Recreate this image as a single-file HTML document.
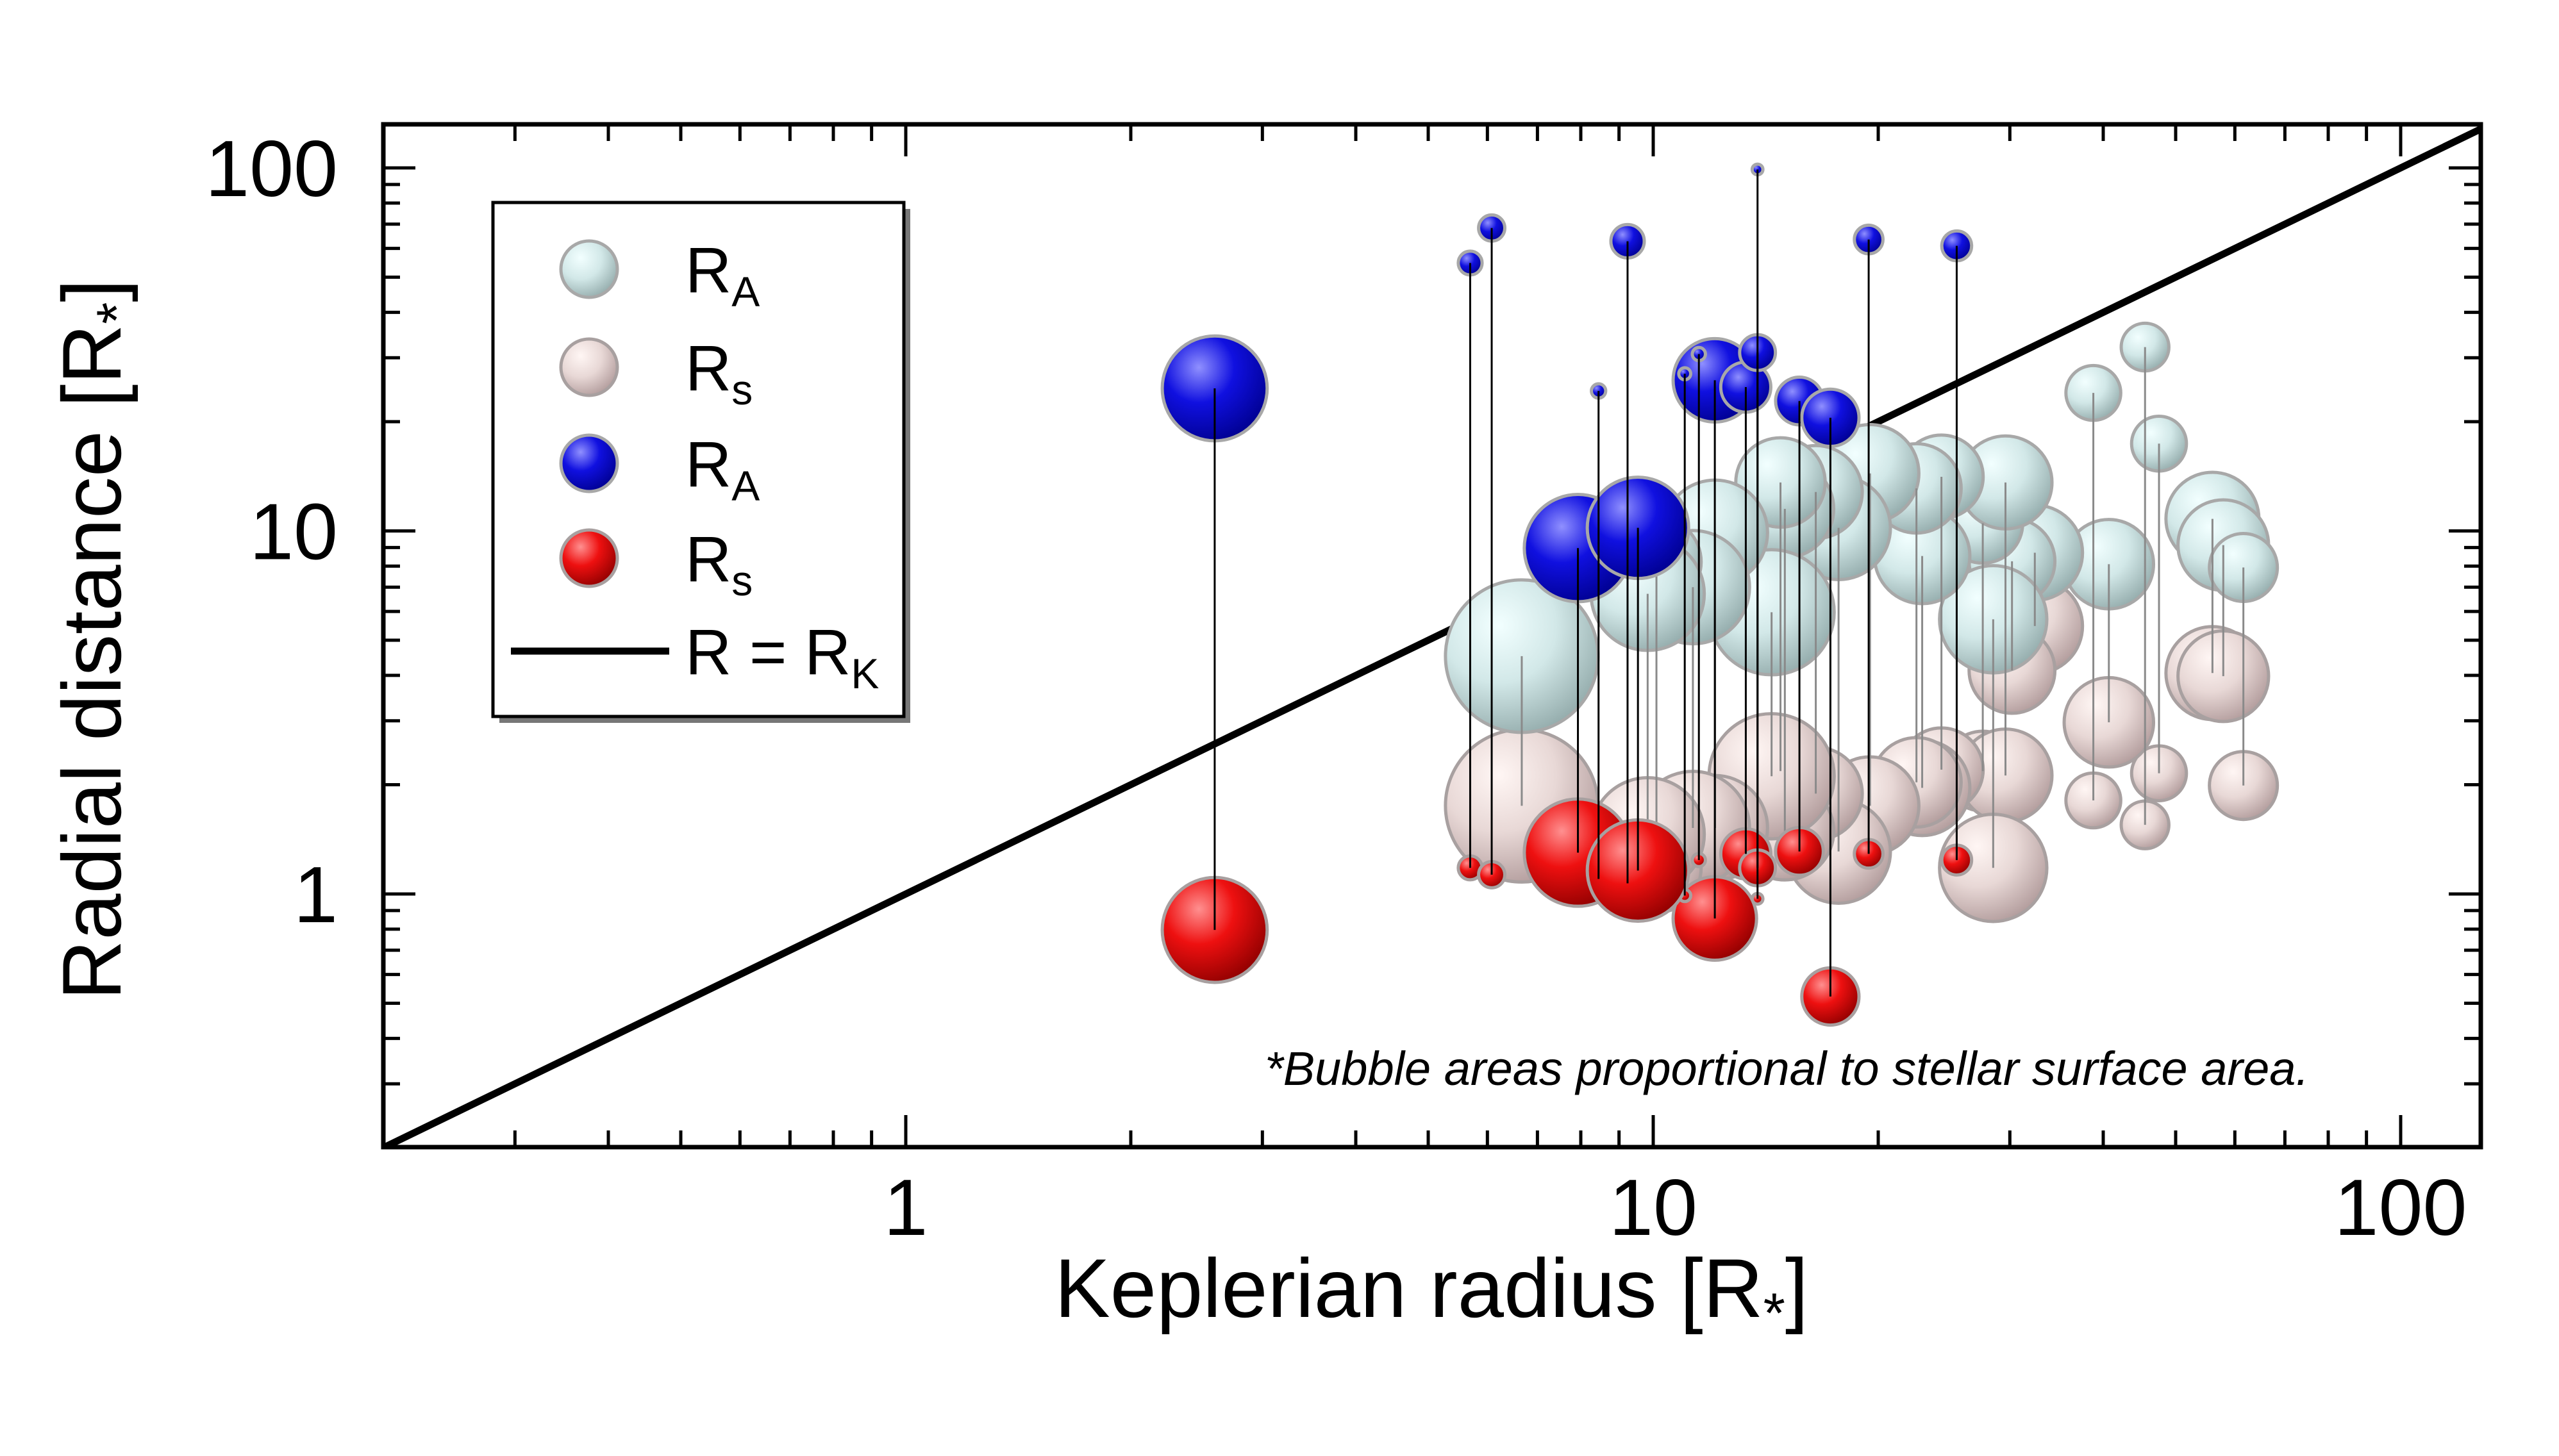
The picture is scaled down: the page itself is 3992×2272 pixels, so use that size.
<!DOCTYPE html>
<html><head><meta charset="utf-8"><style>
html,body{margin:0;padding:0;background:#fff}
svg{display:block}
text{font-family:"Liberation Sans",sans-serif}
</style></head><body>
<svg id="chart" width="3992" height="2272" viewBox="0 0 3992 2272" xmlns="http://www.w3.org/2000/svg">
<defs>
<radialGradient id="gCyan" cx="0.35" cy="0.3" r="0.75"><stop offset="0" stop-color="#f2ffff"/><stop offset="0.5" stop-color="#d2e8e8"/><stop offset="1" stop-color="#94acac"/></radialGradient>
<radialGradient id="gPink" cx="0.35" cy="0.3" r="0.75"><stop offset="0" stop-color="#fff6f4"/><stop offset="0.5" stop-color="#e8d8d6"/><stop offset="1" stop-color="#b29c9c"/></radialGradient>
<radialGradient id="gBlue" cx="0.35" cy="0.3" r="0.75"><stop offset="0" stop-color="#9090ff"/><stop offset="0.45" stop-color="#1010e0"/><stop offset="1" stop-color="#000090"/></radialGradient>
<radialGradient id="gRed" cx="0.35" cy="0.3" r="0.75"><stop offset="0" stop-color="#ff9090"/><stop offset="0.45" stop-color="#ee1010"/><stop offset="1" stop-color="#900000"/></radialGradient>
<clipPath id="plotClip"><rect x="598" y="194" width="3272" height="1596"/></clipPath>
</defs>
<g id="marks" clip-path="url(#plotClip)"></g>
<g id="axes"></g>
</svg>
<script>
// Pale population (RA cyan, Rs pink)
const paleKepler = [6.67,38.8,45.5,47.5,56.0,57.9,61.6,40.7,32.4,30.2,27.6,29.6,28.5,24.3,22.9,22.5,19.5,17.7,16.5,15.0,14.8,14.4,12.1,11.3,10.1,9.83];
const paleRA =     [4.52,24.0,32.1,17.4,10.8,9.14,7.93,8.10,8.71,8.25,10.5,13.6,5.71,14.1,8.53,13.1,14.4,10.2,12.8,11.5,13.6,5.97,9.90,7.00,8.22,6.71];
const paleRs =     [1.75,1.81,1.55,2.15,4.06,3.98,1.99,2.97,5.47,4.13,2.18,2.12,1.18,2.20,1.96,2.03,1.75,1.31,1.89,1.49,2.18,2.11,1.52,1.52,1.18,1.46];
const paleSize =   [128,46,40,46,78,76,57,75,80,72,67,78,90,70,80,75,82,87,78,82,75,105,88,95,75,95];
// Highlighted population (RA blue, Rs red)
const hiKepler = [5.69,6.08,9.24,8.45,13.79,19.42,25.47,12.09,11.51,11.02,13.30,13.79,15.69,17.26,7.93,9.54,2.59];
const hiRA =     [54.7,68.3,62.8,24.3,99.0,63.5,61.0,26.0,30.7,27.1,24.9,31.0,22.8,20.5,8.97,10.2,24.7];
const hiRs =     [1.18,1.13,1.07,1.10,0.97,1.29,1.24,0.856,1.24,0.99,1.29,1.18,1.31,0.522,1.30,1.16,0.796];
const hiSize =   [20,22,28,12,9,24,25,70,11,10,42,30,40,48,90,85,88];
const xTickLabels = ["1","10","100"];
const yTickLabels = ["1","10","100"];

const NS = "http://www.w3.org/2000/svg";
const X = v => 1413 + 1166 * Math.log10(v);
const Y = v => 1395 - 566.5 * Math.log10(v);
const L = 598, R = 3870, T = 194, B = 1790;
const marks = document.getElementById('marks');
const axes = document.getElementById('axes');
function mk(tag, attrs, parent) {
  const e = document.createElementNS(NS, tag);
  for (const k in attrs) e.setAttribute(k, attrs[k]);
  parent.appendChild(e);
  return e;
}
const SC = 0.93;

const diag = mk('line', {x1: X(0.15), y1: Y(0.15), x2: X(200), y2: Y(200), stroke: '#000', 'stroke-width': 11}, marks);



paleKepler.forEach((k, i) => {
  const c = mk('circle', {cx: X(k), cy: Y(paleRs[i]), r: paleSize[i] * SC, fill: 'url(#gPink)', stroke: '#a8a0a0', 'stroke-width': 5}, marks);
  
  
});
paleKepler.forEach((k, i) => {
  const c = mk('circle', {cx: X(k), cy: Y(paleRA[i]), r: paleSize[i] * SC, fill: 'url(#gCyan)', stroke: '#a8a8a8', 'stroke-width': 5}, marks);
  
  
});
paleKepler.forEach((k, i) => {
  const l = mk('line', {x1: X(k), y1: Y(paleRA[i]), x2: X(k), y2: Y(paleRs[i]), stroke: '#8a8a8a', 'stroke-width': 3}, marks);
  
  
});
hiKepler.forEach((k, i) => {
  const c = mk('circle', {cx: X(k), cy: Y(hiRs[i]), r: hiSize[i] * SC, fill: 'url(#gRed)', stroke: '#a8a0a0', 'stroke-width': 5}, marks);
  
  
});
hiKepler.forEach((k, i) => {
  const c = mk('circle', {cx: X(k), cy: Y(hiRA[i]), r: hiSize[i] * SC, fill: 'url(#gBlue)', stroke: '#a8a8a8', 'stroke-width': 5}, marks);
  
  
});
hiKepler.forEach((k, i) => {
  const l = mk('line', {x1: X(k), y1: Y(hiRA[i]), x2: X(k), y2: Y(hiRs[i]), stroke: '#000', 'stroke-width': 3}, marks);
  
  
});

const frame = mk('rect', {x: L, y: T, width: R - L, height: B - T, fill: 'none', stroke: '#000', 'stroke-width': 7}, axes);


for (let d = -1; d <= 2; d++) {
  for (let m = 1; m <= 9; m++) {
    const v = m * Math.pow(10, d);
    const len = m === 1 ? 50 : 26;
    const x = X(v);
    if (x > L + 2 && x < R - 2) {
      const t1 = mk('line', {x1: x, y1: B, x2: x, y2: B - len, stroke: '#000', 'stroke-width': 5}, axes);
      
      
      const t2 = mk('line', {x1: x, y1: T, x2: x, y2: T + len, stroke: '#000', 'stroke-width': 5}, axes);
      
      
    }
    const y = Y(v);
    if (y > T + 2 && y < B - 2) {
      const t3 = mk('line', {x1: L, y1: y, x2: L + len, y2: y, stroke: '#000', 'stroke-width': 5}, axes);
      
      
      const t4 = mk('line', {x1: R, y1: y, x2: R - len, y2: y, stroke: '#000', 'stroke-width': 5}, axes);
      
      
    }
  }
}
xTickLabels.forEach(s => {
  const t = mk('text', {x: X(parseFloat(s)), y: 1927, 'font-size': 124, 'text-anchor': 'middle'}, axes);
  t.textContent = s;
  
  
});
yTickLabels.forEach(s => {
  const t = mk('text', {x: 527, y: Y(parseFloat(s)) + 44, 'font-size': 124, 'text-anchor': 'end'}, axes);
  t.textContent = s;
  
  
});
</script>
<svg style="position:absolute;left:0;top:0" width="3992" height="2272" viewBox="0 0 3992 2272" xmlns="http://www.w3.org/2000/svg">
<defs>
<radialGradient id="lgCyan" cx="0.35" cy="0.3" r="0.75"><stop offset="0" stop-color="#f2ffff"/><stop offset="0.5" stop-color="#d2e8e8"/><stop offset="1" stop-color="#94acac"/></radialGradient>
<radialGradient id="lgPink" cx="0.35" cy="0.3" r="0.75"><stop offset="0" stop-color="#fff6f4"/><stop offset="0.5" stop-color="#e8d8d6"/><stop offset="1" stop-color="#b29c9c"/></radialGradient>
<radialGradient id="lgBlue" cx="0.35" cy="0.3" r="0.75"><stop offset="0" stop-color="#9090ff"/><stop offset="0.45" stop-color="#1010e0"/><stop offset="1" stop-color="#000090"/></radialGradient>
<radialGradient id="lgRed" cx="0.35" cy="0.3" r="0.75"><stop offset="0" stop-color="#ff9090"/><stop offset="0.45" stop-color="#ee1010"/><stop offset="1" stop-color="#900000"/></radialGradient>
</defs>
<text x="2233" y="2055" font-size="130" text-anchor="middle" style="font-family:'Liberation Sans',sans-serif">Keplerian radius [R<tspan font-size="88" dy="24">*</tspan><tspan dy="-24">]</tspan></text>
<text transform="translate(188,998) rotate(-90)" font-size="130" text-anchor="middle" style="font-family:'Liberation Sans',sans-serif">Radial distance [R<tspan font-size="88" dy="24">*</tspan><tspan dy="-24">]</tspan></text>
<text x="1973" y="1693" font-size="74" font-style="italic" style="font-family:'Liberation Sans',sans-serif">*Bubble areas proportional to stellar surface area.</text>
<g style="font-family:'Liberation Sans',sans-serif">
<rect x="779" y="326" width="641" height="802" fill="#777"/>
<rect x="769" y="316" width="641" height="802" fill="#fff" stroke="#000" stroke-width="5"/>
<g><circle cx="919" cy="420" r="44" fill="url(#lgCyan)" stroke="#a8a8a8" stroke-width="5"/><text x="1069" y="456" font-size="100">R<tspan font-size="66" dy="22">A</tspan></text></g>
<g><circle cx="919" cy="573" r="44" fill="url(#lgPink)" stroke="#a8a0a0" stroke-width="5"/><text x="1069" y="609" font-size="100">R<tspan font-size="66" dy="22">s</tspan></text></g>
<g><circle cx="919" cy="723" r="44" fill="url(#lgBlue)" stroke="#a8a8a8" stroke-width="5"/><text x="1069" y="759" font-size="100">R<tspan font-size="66" dy="22">A</tspan></text></g>
<g><circle cx="919" cy="871" r="44" fill="url(#lgRed)" stroke="#a8a0a0" stroke-width="5"/><text x="1069" y="907" font-size="100">R<tspan font-size="66" dy="22">s</tspan></text></g>
<g><line x1="797" y1="1016" x2="1044" y2="1016" stroke="#000" stroke-width="11"/><text x="1069" y="1052" font-size="100">R = R<tspan font-size="66" dy="22">K</tspan></text></g>
</g>
</svg>
</body></html>
